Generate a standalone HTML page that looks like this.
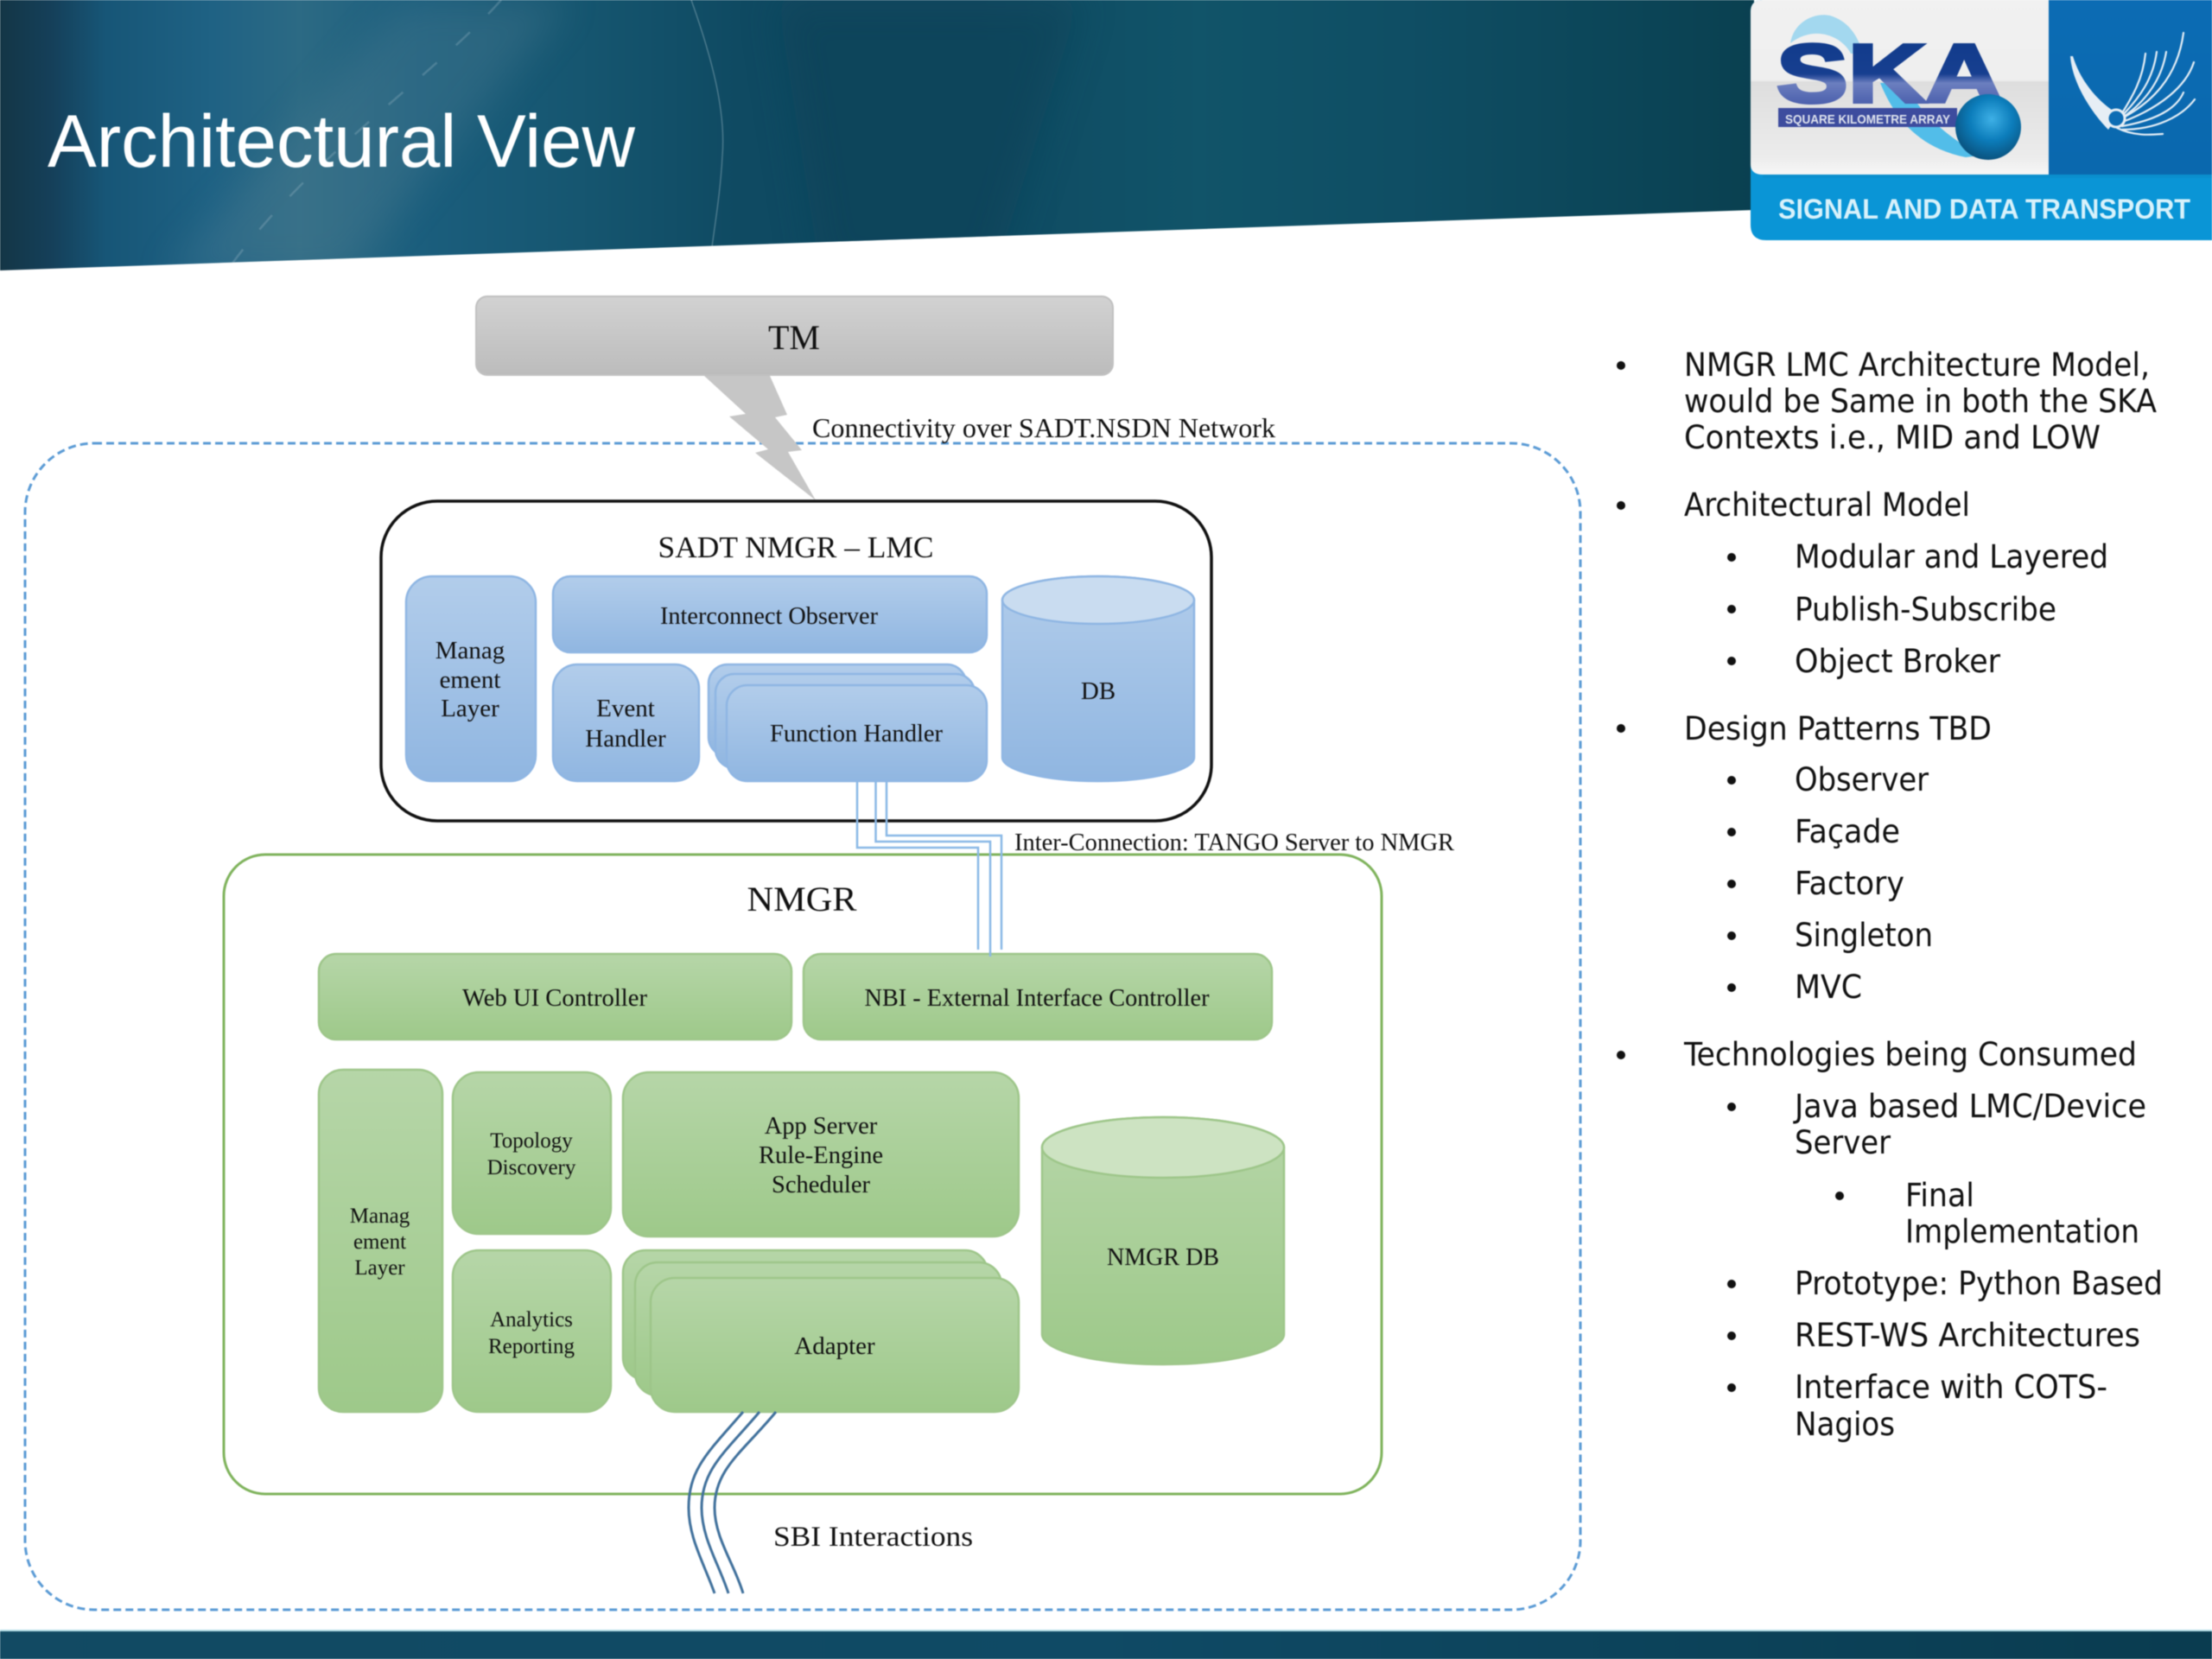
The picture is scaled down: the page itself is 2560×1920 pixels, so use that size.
<!DOCTYPE html>
<html lang="en"><head><meta charset="utf-8"><title>Architectural View</title>
<style>html,body{margin:0;padding:0;background:#fff;width:2560px;height:1920px;overflow:hidden}svg{display:block;filter:blur(.6px)}
.s{font-family:"Liberation Serif",serif;fill:#111}
.t{font-family:"DejaVu Sans Condensed","DejaVu Sans",sans-serif;font-size:37px;fill:#111}
</style></head><body>
<svg xmlns="http://www.w3.org/2000/svg" width="2560" height="1920" viewBox="0 0 2560 1920">
<defs>
<linearGradient id="hd" x1="0" x2="1" y1="0" y2="0">
<stop offset="0" stop-color="#143646"/><stop offset=".03" stop-color="#15405a"/><stop offset=".06" stop-color="#175677"/><stop offset=".12" stop-color="#1f6284"/><stop offset=".17" stop-color="#2c6a84"/><stop offset=".24" stop-color="#1b5e7d"/><stop offset=".33" stop-color="#165670"/><stop offset=".42" stop-color="#0f4a62"/><stop offset=".55" stop-color="#0f4a62"/><stop offset=".68" stop-color="#115469"/><stop offset=".8" stop-color="#0f4e64"/><stop offset="1" stop-color="#0a4050"/>
</linearGradient>
<linearGradient id="ft" x1="0" x2="1" y1="0" y2="0"><stop offset="0" stop-color="#124a63"/><stop offset=".5" stop-color="#0f4a65"/><stop offset="1" stop-color="#0a3c50"/></linearGradient>
<filter id="b20" x="-50%" y="-50%" width="200%" height="200%"><feGaussianBlur stdDeviation="22"/></filter>
<clipPath id="wedge"><polygon points="0,0 2030,0 2030,243 0,313"/></clipPath>
<linearGradient id="gr" x1="0" x2="0" y1="0" y2="1"><stop offset="0" stop-color="#d2d2d2"/><stop offset="1" stop-color="#bcbcbc"/></linearGradient>
<linearGradient id="bl" x1="0" x2="0" y1="0" y2="1"><stop offset="0" stop-color="#b2cdeb"/><stop offset="1" stop-color="#90b6e1"/></linearGradient>
<linearGradient id="gn" x1="0" x2="0" y1="0" y2="1"><stop offset="0" stop-color="#b6d6a8"/><stop offset="1" stop-color="#9ec98a"/></linearGradient>
<linearGradient id="lg" x1="0" x2="0" y1="0" y2="1"><stop offset="0" stop-color="#f1f1f1"/><stop offset=".46" stop-color="#efefef"/><stop offset=".47" stop-color="#dedede"/><stop offset=".9" stop-color="#ececec"/><stop offset="1" stop-color="#f7f7f7"/></linearGradient>
<linearGradient id="lb" x1="0" x2="0" y1="0" y2="1"><stop offset="0" stop-color="#0c6cb4"/><stop offset="1" stop-color="#0a68ae"/></linearGradient>
<linearGradient id="sk" x1="0" x2="0" y1="0" y2="1"><stop offset="0" stop-color="#0f3a8a"/><stop offset=".5" stop-color="#173f90"/><stop offset=".6" stop-color="#6c7fbf"/><stop offset="1" stop-color="#33489f"/></linearGradient>
<radialGradient id="sp" cx=".55" cy=".38" r=".65"><stop offset="0" stop-color="#3eb0e6"/><stop offset=".5" stop-color="#0c7dbb"/><stop offset="1" stop-color="#0a4f7a"/></radialGradient>
</defs>
<rect width="2560" height="1920" fill="#fff"/>

<!-- header -->
<g clip-path="url(#wedge)">
<rect width="2040" height="320" fill="url(#hd)"/>
<polygon points="470,0 660,0 400,320 190,320" fill="#5a8496" opacity=".28" filter="url(#b20)"/>
<polygon points="900,0 1250,0 1150,320 950,320" fill="#0b4055" opacity=".5" filter="url(#b20)"/>
<path d="M800,0 C825,70 840,130 836,180 C834,220 828,255 824,286" fill="none" stroke="#b8cfd8" stroke-opacity=".35" stroke-width="1.5"/>
<path d="M580,0 C500,90 360,180 265,310" fill="none" stroke="#c5d8e0" stroke-opacity=".22" stroke-width="2.500" stroke-dasharray="22 30"/>
</g>
<text x="55" y="193" font-family="'Liberation Sans',sans-serif" font-size="86" fill="#fff" textLength="680" lengthAdjust="spacingAndGlyphs">Architectural View</text>

<!-- logo -->
<path d="M2026,190 V14 Q2026,0 2040,0 H2560 V278 H2044 Q2026,278 2026,260 Z" fill="#0a95d6"/>
<path d="M2026,190 V14 Q2026,0 2040,0 H2371 V202 H2040 Q2026,202 2026,190 Z" fill="url(#lg)"/>
<rect x="2371" y="0" width="189" height="202" fill="url(#lb)"/>
<rect x="2040" y="202" width="520" height="4" fill="#0a8fce"/>
<path d="M2072,50 C2076,25 2100,14 2118,18 C2138,24 2150,40 2156,62 L2142,62 C2132,42 2100,28 2072,50 Z" fill="#a3d8ef"/>
<path d="M2176,96 C2190,130 2215,170 2275,182 L2292,180 C2240,150 2215,120 2205,96 Z" fill="#52bde9"/>
<text x="2056" y="118" font-family="'Liberation Sans',sans-serif" font-weight="bold" font-size="96" fill="url(#sk)" stroke="url(#sk)" stroke-width="4" textLength="262" lengthAdjust="spacingAndGlyphs">SKA</text>
<rect x="2058" y="125" width="207" height="22" fill="#3d4c9e"/>
<text x="2066" y="143" font-family="'Liberation Sans',sans-serif" font-weight="bold" font-size="15" fill="#dfe3ee" textLength="191" lengthAdjust="spacingAndGlyphs">SQUARE KILOMETRE ARRAY</text>
<circle cx="2301" cy="147" r="38" fill="url(#sp)"/>
<g fill="none" stroke="#e4eef6" stroke-width="2.2" stroke-linecap="round">
<path d="M2450,140 C2490,120 2520,90 2527,38"/><path d="M2450,140 C2470,110 2480,90 2483,62"/><path d="M2452,138 C2478,112 2492,90 2496,60"/><path d="M2454,138 C2486,116 2502,90 2507,60"/><path d="M2454,142 C2500,125 2530,100 2539,72"/><path d="M2456,146 C2490,140 2518,128 2527,107"/><path d="M2456,150 C2495,150 2525,135 2540,115"/><path d="M2450,148 C2470,158 2490,156 2503,155"/>
</g>
<path d="M2396,65 C2398,95 2420,130 2440,150 L2452,132 C2430,120 2408,95 2399,65 Z" fill="#e6eef5"/>
<circle cx="2449" cy="137" r="10" fill="#0c6cb4" stroke="#e6eef5" stroke-width="3"/>
<text x="2058" y="253" font-family="'Liberation Sans',sans-serif" font-size="32" font-weight="bold" fill="#d9f2fb" textLength="477" lengthAdjust="spacingAndGlyphs">SIGNAL AND DATA TRANSPORT</text>

<!-- footer -->
<rect y="1886" width="2560" height="2" fill="#b7dfe8"/>
<rect y="1888" width="2560" height="32" fill="url(#ft)"/>

<!-- outer dashed -->
<rect x="29" y="513" width="1800" height="1350" rx="80" ry="80" fill="none" stroke="#5b9bd5" stroke-width="3" stroke-dasharray="9 5"/>

<!-- TM -->
<rect x="551" y="343" width="737" height="91" rx="13" fill="url(#gr)" stroke="#c0c0c0" stroke-width="2"/>
<text class="s" x="919" y="404" font-size="40" text-anchor="middle">TM</text>
<polygon points="815,435 891,435 911,480 897,483 928,521 912,523 944,579 874,524 889,520 844,482 863,479" fill="#c6c6c6"/>
<text class="s" x="940" y="506" font-size="32" textLength="536" lengthAdjust="spacingAndGlyphs">Connectivity over SADT.NSDN Network</text>

<!-- LMC -->
<rect x="441" y="580" width="961" height="370" rx="65" fill="#fff" stroke="#111" stroke-width="3.5"/>
<text class="s" x="921" y="645" font-size="35" text-anchor="middle" textLength="319" lengthAdjust="spacingAndGlyphs">SADT NMGR – LMC</text>
<g stroke="#8fb6e3" stroke-width="2.5" fill="url(#bl)">
<rect x="470" y="667" width="150" height="237" rx="30"/>
<rect x="640" y="667" width="502" height="88" rx="20"/>
<rect x="640" y="769" width="169" height="135" rx="28"/>
<rect x="820" y="769" width="298" height="106" rx="22"/>
<rect x="828" y="780" width="300" height="109" rx="22"/>
<rect x="841" y="793" width="301" height="111" rx="24"/>
<path d="M1160,694.5 A111,27.5 0 0 1 1382,694.5 V876.5 A111,27.5 0 0 1 1160,876.5 Z"/>
</g>
<ellipse cx="1271" cy="694.5" rx="111" ry="27.5" fill="#c9dcf0" stroke="#8fb6e3" stroke-width="2.5"/>
<g class="s" font-size="29" text-anchor="middle">
<text class="s" x="544" y="762">Manag</text><text class="s" x="544" y="796">ement</text><text class="s" x="544" y="829">Layer</text>
<text class="s" x="890" y="722" textLength="252" lengthAdjust="spacingAndGlyphs">Interconnect Observer</text>
<text class="s" x="724" y="829">Event</text><text class="s" x="724" y="864">Handler</text>
<text class="s" x="991" y="858" textLength="200" lengthAdjust="spacingAndGlyphs">Function Handler</text>
<text class="s" x="1271" y="809">DB</text>
</g>

<!-- interconnection -->
<text class="s" x="1174" y="984" font-size="29" textLength="509" lengthAdjust="spacingAndGlyphs">Inter-Connection: TANGO Server to NMGR</text>

<!-- NMGR -->
<rect x="259" y="989" width="1340" height="740" rx="48" fill="none" stroke="#7fb35c" stroke-width="3"/>
<g fill="none" stroke="#8ab8e6" stroke-width="2.5">
<path d="M992,904 V981 H1132 V1099"/>
<path d="M1013.5,904 V974 H1146 V1107"/>
<path d="M1026,904 V967 H1159 V1099"/>
</g>
<text class="s" x="928" y="1054" font-size="40" text-anchor="middle" textLength="127" lengthAdjust="spacingAndGlyphs">NMGR</text>
<g stroke="#9ec68a" stroke-width="2.5" fill="url(#gn)">
<rect x="369" y="1104" width="547" height="99" rx="20"/>
<rect x="930" y="1104" width="542" height="99" rx="20"/>
<rect x="369" y="1238" width="143" height="396" rx="28"/>
<rect x="524" y="1241" width="183" height="187" rx="30"/>
<rect x="524" y="1447" width="183" height="187" rx="30"/>
<rect x="721" y="1241" width="458" height="190" rx="30"/>
<rect x="721" y="1447" width="422" height="150" rx="26"/>
<rect x="735" y="1461" width="424" height="154" rx="26"/>
<rect x="753" y="1479" width="426" height="155" rx="28"/>
<path d="M1206,1328 A140,35 0 0 1 1486,1328 V1544 A140,35 0 0 1 1206,1544 Z"/>
</g>
<line x1="1146" y1="1102" x2="1146" y2="1107" stroke="#8ab8e6" stroke-width="2.5"/>
<ellipse cx="1346" cy="1328" rx="140" ry="35" fill="#cde3c2" stroke="#9ec68a" stroke-width="2.5"/>
<g font-size="29" text-anchor="middle">
<text class="s" x="642" y="1164" textLength="214" lengthAdjust="spacingAndGlyphs">Web UI Controller</text>
<text class="s" x="1200" y="1164" textLength="399" lengthAdjust="spacingAndGlyphs">NBI - External Interface Controller</text>
<text class="s" x="950" y="1312" font-size="28.5">App Server</text><text class="s" x="950" y="1346" font-size="28.5">Rule-Engine</text><text class="s" x="950" y="1380" font-size="28.5">Scheduler</text>
<text class="s" x="966" y="1567" font-size="29">Adapter</text>
<text class="s" x="1346" y="1464" textLength="130" lengthAdjust="spacingAndGlyphs">NMGR DB</text>
</g>
<g font-size="25" text-anchor="middle">
<text class="s" x="439.500" y="1415">Manag</text><text class="s" x="439.500" y="1445">ement</text><text class="s" x="439.500" y="1475">Layer</text>
<text class="s" x="615" y="1328">Topology</text><text class="s" x="615" y="1359">Discovery</text>
<text class="s" x="615" y="1535">Analytics</text><text class="s" x="615" y="1566">Reporting</text>
</g>
<g fill="none" stroke="#41719c" stroke-width="3">
<path d="M860,1634 C820,1680 797,1700 797,1745 C797,1780 815,1810 827,1844"/>
<path d="M879,1634 C840,1680 812,1700 812,1745 C812,1780 832,1810 843,1844"/>
<path d="M898,1634 C860,1680 827,1700 827,1745 C827,1780 850,1810 860,1844"/>
</g>
<text class="s" x="895" y="1789" font-size="33" textLength="231" lengthAdjust="spacingAndGlyphs">SBI Interactions</text>

<!-- bullets -->
<g fill="#111">
<circle cx="1876" cy="423" r="5"/><circle cx="1876" cy="585" r="5"/><circle cx="1876" cy="843" r="5"/><circle cx="1876" cy="1221" r="5"/>
<circle cx="2004" cy="645" r="5"/><circle cx="2004" cy="705" r="5"/><circle cx="2004" cy="765" r="5"/>
<circle cx="2004" cy="903" r="5"/><circle cx="2004" cy="963" r="5"/><circle cx="2004" cy="1023" r="5"/><circle cx="2004" cy="1083" r="5"/><circle cx="2004" cy="1143" r="5"/>
<circle cx="2004" cy="1281" r="5"/><circle cx="2129" cy="1384" r="5"/><circle cx="2004" cy="1486" r="5"/><circle cx="2004" cy="1546" r="5"/><circle cx="2004" cy="1606" r="5"/>
</g>
<text class="t" x="1949" y="435" textLength="539" lengthAdjust="spacingAndGlyphs">NMGR LMC Architecture Model,</text>
<text class="t" x="1949" y="477" textLength="547" lengthAdjust="spacingAndGlyphs">would be Same in both the SKA</text>
<text class="t" x="1949" y="519" textLength="482" lengthAdjust="spacingAndGlyphs">Contexts i.e., MID and LOW</text>
<text class="t" x="1949" y="597" textLength="331" lengthAdjust="spacingAndGlyphs">Architectural Model</text>
<text class="t" x="2077" y="657" textLength="363" lengthAdjust="spacingAndGlyphs">Modular and Layered</text>
<text class="t" x="2077" y="718" textLength="303" lengthAdjust="spacingAndGlyphs">Publish-Subscribe</text>
<text class="t" x="2077" y="778" textLength="238" lengthAdjust="spacingAndGlyphs">Object Broker</text>
<text class="t" x="1949" y="856" textLength="356" lengthAdjust="spacingAndGlyphs">Design Patterns TBD</text>
<text class="t" x="2077" y="915" textLength="155" lengthAdjust="spacingAndGlyphs">Observer</text>
<text class="t" x="2077" y="975" textLength="122" lengthAdjust="spacingAndGlyphs">Façade</text>
<text class="t" x="2077" y="1035" textLength="127" lengthAdjust="spacingAndGlyphs">Factory</text>
<text class="t" x="2077" y="1095" textLength="160" lengthAdjust="spacingAndGlyphs">Singleton</text>
<text class="t" x="2077" y="1155" textLength="78" lengthAdjust="spacingAndGlyphs">MVC</text>
<text class="t" x="1949" y="1233" textLength="524" lengthAdjust="spacingAndGlyphs">Technologies being Consumed</text>
<text class="t" x="2077" y="1293" textLength="407" lengthAdjust="spacingAndGlyphs">Java based LMC/Device</text>
<text class="t" x="2077" y="1335" textLength="111" lengthAdjust="spacingAndGlyphs">Server</text>
<text class="t" x="2205" y="1396" textLength="80" lengthAdjust="spacingAndGlyphs">Final</text>
<text class="t" x="2205" y="1438" textLength="271" lengthAdjust="spacingAndGlyphs">Implementation</text>
<text class="t" x="2077" y="1498" textLength="426" lengthAdjust="spacingAndGlyphs">Prototype: Python Based</text>
<text class="t" x="2077" y="1558" textLength="400" lengthAdjust="spacingAndGlyphs">REST-WS Architectures</text>
<text class="t" x="2077" y="1618" textLength="362" lengthAdjust="spacingAndGlyphs">Interface with COTS-</text>
<text class="t" x="2077" y="1661" textLength="116" lengthAdjust="spacingAndGlyphs">Nagios</text>
</svg>
</body></html>
